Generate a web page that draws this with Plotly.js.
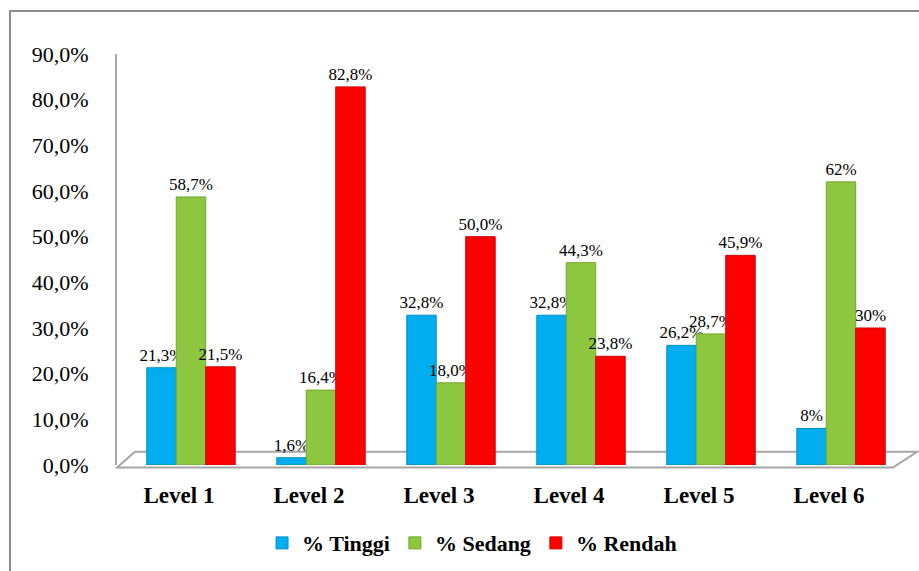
<!DOCTYPE html>
<html>
<head>
<meta charset="utf-8">
<script src="https://cdn.plot.ly/plotly-3.0.1.min.js"></script>
<style>
html,body{margin:0;padding:0;background:#fff;}
#wrap{position:relative;width:919px;height:571px;overflow:hidden;}
#frame{position:absolute;left:9px;top:10px;width:940px;height:600px;border-left:2px solid #8c8c8c;border-top:2px solid #8c8c8c;pointer-events:none;z-index:5;}
#chart{position:absolute;left:0;top:0;width:919px;height:571px;}
</style>
</head>
<body>
<div id="wrap"><div id="chart"></div><div id="frame"></div></div>
<script>
const categories = ["Level 1","Level 2","Level 3","Level 4","Level 5","Level 6"];
const tinggi = [21.3, 1.6, 32.8, 32.8, 26.2, 8];
const sedang = [58.7, 16.4, 18.0, 44.3, 28.7, 62];
const rendah = [21.5, 82.8, 50.0, 23.8, 45.9, 30];
const tinggiLabels = ["21,3%","1,6%","32,8%","32,8%","26,2%","8%"];
const sedangLabels = ["58,7%","16,4%","18,0%","44,3%","28,7%","62%"];
const rendahLabels = ["21,5%","82,8%","50,0%","23,8%","45,9%","30%"];
const yTickVals = [0,10,20,30,40,50,60,70,80,90];
const yTickText = ["0,0%","10,0%","20,0%","30,0%","40,0%","50,0%","60,0%","70,0%","80,0%","90,0%"];
const seriesNames = ["% Tinggi","% Sedang","% Rendah"];
const colors = ["#00AEEF","#8DC63F","#FF0000"];
const lineColors = ["#0090C8","#72A82E","#D00000"];

const FAM = "Liberation Serif";
function mk(vals, labels, i){
  return {
    type:'bar', x:categories, y:vals, name:seriesNames[i],
    text:labels, textposition:'outside', cliponaxis:false, constraintext:'none',
    textfont:{family:FAM, size:17},
    marker:{color:colors[i], line:{color:lineColors[i], width:1}},
    hoverinfo:'skip'
  };
}
const data = [mk(tinggi,tinggiLabels,0), mk(sedang,sedangLabels,1), mk(rendah,rendahLabels,2)];

const layout = {
  width:919, height:571,
  font:{family:FAM, color:'#000'},
  margin:{l:117, r:13, t:54, b:106, autoexpand:false},
  paper_bgcolor:'#fff', plot_bgcolor:'rgba(0,0,0,0)',
  barmode:'group', bargap:0.32, bargroupgap:0,
  showlegend:true,
  legend:{orientation:'h', x:0.45, xanchor:'center', y:-0.19, yanchor:'middle',
          font:{family:FAM, size:22, weight:'bold'}},
  xaxis:{type:'category', range:[-0.569, 5.5], showline:false, showgrid:false, zeroline:false,
         ticks:'', ticklabelshift:-12, ticklabelstandoff:14,
         tickfont:{family:FAM, size:23, weight:'bold'}},
  yaxis:{range:[0,90], tickvals:yTickVals, ticktext:yTickText, showgrid:false, zeroline:false,
         showline:true, linecolor:'#a6a6a6', linewidth:2, ticks:'', ticklabelstandoff:22,
         tickfont:{family:FAM, size:22}},
  shapes:[
    {type:'path', xref:'paper', yref:'paper', layer:'below',
     path:'M 0 -0.006 L 0.9835 -0.006 L 1.014 0.032 L 0.0228 0.032 Z',
     line:{color:'#a6a6a6', width:2}, fillcolor:'rgba(0,0,0,0)'}
  ]
};
Plotly.newPlot('chart', data, layout, {displayModeBar:false});
</script>
</body>
</html>
